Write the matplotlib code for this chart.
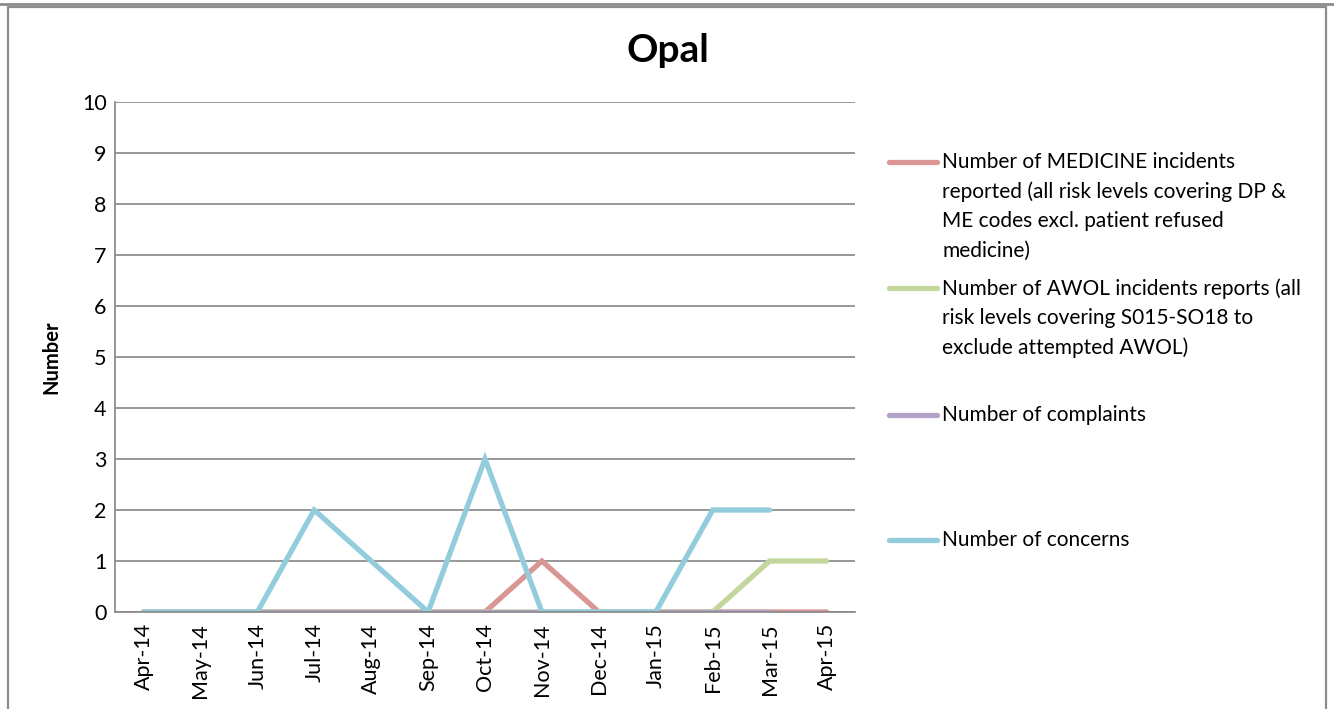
import numpy as np
import matplotlib
matplotlib.use("Agg")
import matplotlib.pyplot as plt
from matplotlib.lines import Line2D
from matplotlib.patches import Rectangle

plt.rcParams['font.family'] = ['Lato', 'DejaVu Sans']

# --- Data ---
months = ["Apr-14", "May-14", "Jun-14", "Jul-14", "Aug-14", "Sep-14", "Oct-14",
          "Nov-14", "Dec-14", "Jan-15", "Feb-15", "Mar-15", "Apr-15"]
medicine = [0, 0, 0, 0, 0, 0, 0, 1, 0, 0, 0, 0, 0]
awol = [0, 0, 0, 0, 0, 0, 0, 0, 0, 0, 0, 1, 1]
complaints = [0, 0, 0, 0, 0, 0, 0, 0, 0, 0, 0, 0, np.nan]
concerns = [0, 0, 0, 2, 1, 0, 3, 0, 0, 0, 2, 2, np.nan]

labels = [
    "Number of MEDICINE incidents\nreported (all risk levels covering DP &\nME codes excl. patient refused\nmedicine)",
    "Number of AWOL incidents reports (all\nrisk levels covering S015-SO18 to\nexclude attempted AWOL)",
    "Number of complaints",
    "Number of concerns",
]
colors = ["#D99694", "#C3D69B", "#B3A2C7", "#93CDDD"]
series = [medicine, awol, complaints, concerns]

# --- Figure ---
W, H = 1334, 709
fig = plt.figure(figsize=(W / 100, H / 100), dpi=100)

# outer frame like the spreadsheet chart border
fig.add_artist(Line2D([0, 1], [1 - 3.5 / H, 1 - 3.5 / H], transform=fig.transFigure,
                      color="#8c8c8c", lw=2))
fig.add_artist(Rectangle((7.5 / W, -0.01), (1326 - 7.5) / W, 1 - 6.5 / H + 0.01,
                         transform=fig.transFigure, fill=False,
                         edgecolor="#8c8c8c", lw=1.6))

ax = fig.add_axes([115 / W, 1 - 612 / H, (855 - 115) / W, (612 - 102) / H])
x = np.arange(len(months))
for vals, c, lab in zip(series, colors, labels):
    ax.plot(x, vals, color=c, lw=3.8, solid_capstyle="round",
            solid_joinstyle="miter", label=lab)

ax.set_xlim(-0.5, len(months) - 0.5)
ax.set_ylim(0, 10)
ax.set_yticks(range(0, 11))
ax.set_xticks(x)
ax.set_xticklabels(months, rotation=90, fontsize=15.5)
ax.tick_params(axis="y", labelsize=15.5, length=0, pad=6)
ax.tick_params(axis="x", length=0, pad=8)
ax.yaxis.grid(True, color="#868686", lw=1.2)
ax.set_axisbelow(True)
for s in ["top", "right"]:
    ax.spines[s].set_visible(False)
for s in ["left", "bottom"]:
    ax.spines[s].set_color("#868686")
    ax.spines[s].set_linewidth(1.2)
ax.set_ylabel("Number", fontsize=14.5, fontweight="bold", labelpad=15)

fig.text(668 / W, 1 - 50 / H, "Opal", ha="center", va="center",
         fontsize=28, fontweight="bold")

# --- Legend (drawn by hand to mimic spreadsheet spacing) ---
leg_y = [162, 288, 415, 540]
for yy, c, lab in zip(leg_y, colors, labels):
    fy = 1 - yy / H
    fig.add_artist(Line2D([889 / W, 937 / W], [fy, fy], transform=fig.transFigure,
                          color=c, lw=3.8, solid_capstyle="round"))
    fig.text(942 / W, 1 - (yy - 10) / H, lab, ha="left", va="top",
             fontsize=15, linespacing=1.58)

fig.savefig("out.png", dpi=100)
